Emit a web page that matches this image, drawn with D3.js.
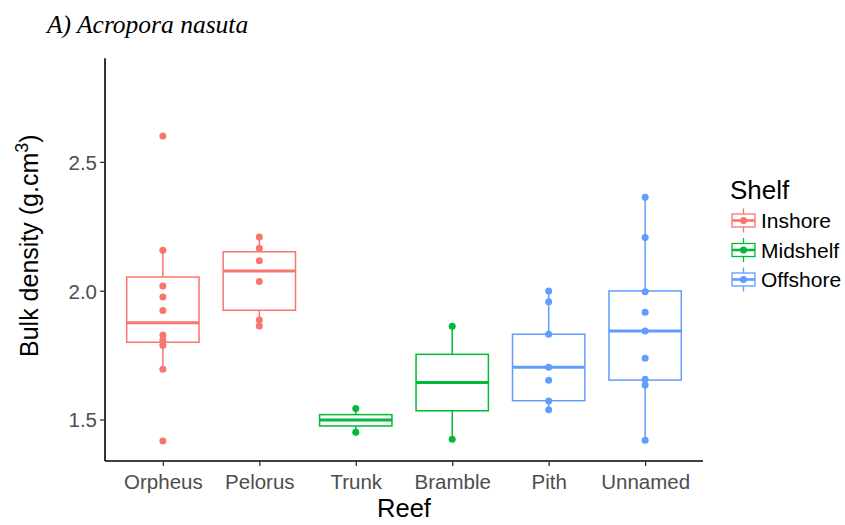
<!DOCTYPE html>
<html><head><meta charset="utf-8">
<script src="https://cdn.jsdelivr.net/npm/d3@7"></script>
<style>body{margin:0;background:#fff}svg{display:block}text{font-family:"Liberation Sans",Arial,sans-serif}</style>
</head><body><svg id="c" width="845" height="525"></svg>
<script>
const reefs = ["Orpheus","Pelorus","Trunk","Bramble","Pith","Unnamed"];
const shelfOfReef = ["Inshore","Inshore","Midshelf","Midshelf","Offshore","Offshore"];
const shelves = ["Inshore","Midshelf","Offshore"];
const shelfColors = ["#F8766D","#00BA38","#619CFF"];
const pointValues = [
  [2.600,2.157,2.018,1.976,1.923,1.828,1.809,1.788,1.695,1.417],
  [2.208,2.165,2.116,2.036,1.886,1.863],
  [1.543,1.451],
  [1.862,1.423],
  [1.999,1.957,1.831,1.703,1.652,1.572,1.538],
  [2.363,2.206,1.996,1.916,1.844,1.738,1.656,1.634,1.420]
];
const q1 = [1.800,1.924,1.475,1.534,1.573,1.653];
const median = [1.876,2.076,1.498,1.644,1.703,1.844];
const q3 = [2.053,2.151,1.519,1.753,1.831,1.999];
const whiskerLow = [1.695,1.863,1.451,1.423,1.538,1.420];
const whiskerHigh = [2.157,2.208,1.543,1.862,1.999,2.363];
const yTicks = [1.5,2.0,2.5];

const svg = d3.select("#c");
const x = d3.scalePoint().domain(reefs).range([105,703]).padding(0.6);
const y = d3.scaleLinear().domain([1.339,2.902]).range([461,58.3]);
const color = d3.scaleOrdinal().domain(shelves).range(shelfColors);
const bw = x.step()*0.75;

// title
svg.append("text").attr("x",47).attr("y",33)
  .style("font-family",'"Liberation Serif","Times New Roman",serif')
  .style("font-style","italic").style("font-size","25.5px").attr("fill","#000")
  .text("A) Acropora nasuta");

// boxes
const g = svg.append("g");
reefs.forEach((r,i)=>{
  const c = color(shelfOfReef[i]);
  const cx = x(r);
  const bg = g.append("g").attr("stroke",c).attr("fill","none");
  bg.append("line").attr("x1",cx).attr("x2",cx).attr("y1",y(q3[i])).attr("y2",y(whiskerHigh[i])).attr("stroke-width",1.5);
  bg.append("line").attr("x1",cx).attr("x2",cx).attr("y1",y(q1[i])).attr("y2",y(whiskerLow[i])).attr("stroke-width",1.5);
  bg.append("rect").attr("x",cx-bw/2).attr("width",bw).attr("y",y(q3[i])).attr("height",y(q1[i])-y(q3[i])).attr("fill","#fff").attr("stroke-width",1.5);
  bg.append("line").attr("x1",cx-bw/2).attr("x2",cx+bw/2).attr("y1",y(median[i])).attr("y2",y(median[i])).attr("stroke-width",3);
  g.selectAll(null).data(pointValues[i]).join("circle")
    .attr("cx",cx).attr("cy",d=>y(d)).attr("r",3.5).attr("fill",c);
});

// axes
const yAxis = svg.append("g").attr("transform","translate(105,0)")
  .call(d3.axisLeft(y).tickValues(yTicks).tickFormat(d3.format(".1f")).tickSize(5).tickSizeOuter(0));
const xAxis = svg.append("g").attr("transform","translate(0,461)")
  .call(d3.axisBottom(x).tickSize(5).tickSizeOuter(0));
[yAxis,xAxis].forEach(a=>{
  a.select(".domain").attr("stroke","#000").attr("stroke-width",1.6);
  a.selectAll(".tick line").attr("stroke","#333").attr("stroke-width",1.3);
  a.selectAll(".tick text").attr("fill","#4D4D4D").style("font-size","20.5px").style("font-family",'"Liberation Sans",Arial,sans-serif');
});
yAxis.select(".domain").attr("d","M0,58.3V461");
xAxis.select(".domain").attr("d","M105,0H703");
yAxis.selectAll(".tick text").attr("x",-8).attr("dy","0.36em");
xAxis.selectAll(".tick text").attr("y",13).attr("dy","0.71em");

// axis titles
svg.append("text").attr("x",404).attr("y",517).attr("text-anchor","middle")
  .style("font-size","25.5px").attr("fill","#000").text("Reef");
const yt = svg.append("text").attr("transform","translate(38,357) rotate(-90)")
  .attr("text-anchor","start").style("font-size","25px").attr("fill","#000");
yt.append("tspan").text("Bulk density (g.cm");
yt.append("tspan").attr("dy",-10).style("font-size","18px").text("3");
yt.append("tspan").attr("dy",10).text(")");

// legend
const lg = svg.append("g");
lg.append("text").attr("x",730).attr("y",199).style("font-size","26px").attr("fill","#000").text("Shelf");
const keyY = d3.scalePoint().domain(shelves).range([220.5,279.5]);
shelves.forEach(s=>{
  const cy = keyY(s), cx = 743.5, c = color(s);
  const k = lg.append("g").attr("stroke",c).attr("fill","none").attr("stroke-width",1.3);
  k.append("line").attr("x1",cx).attr("x2",cx).attr("y1",cy-12).attr("y2",cy+12);
  k.append("rect").attr("x",cx-11.5).attr("width",23).attr("y",cy-6.5).attr("height",13).attr("fill","#fff");
  k.append("line").attr("x1",cx-11.5).attr("x2",cx+11.5).attr("y1",cy).attr("y2",cy).attr("stroke-width",2.6);
  lg.append("circle").attr("cx",cx).attr("cy",cy).attr("r",3.5).attr("fill",c);
  lg.append("text").attr("x",761).attr("y",cy).attr("dy","0.36em").style("font-size","21px").attr("fill","#000").text(s);
});
</script></body></html>
